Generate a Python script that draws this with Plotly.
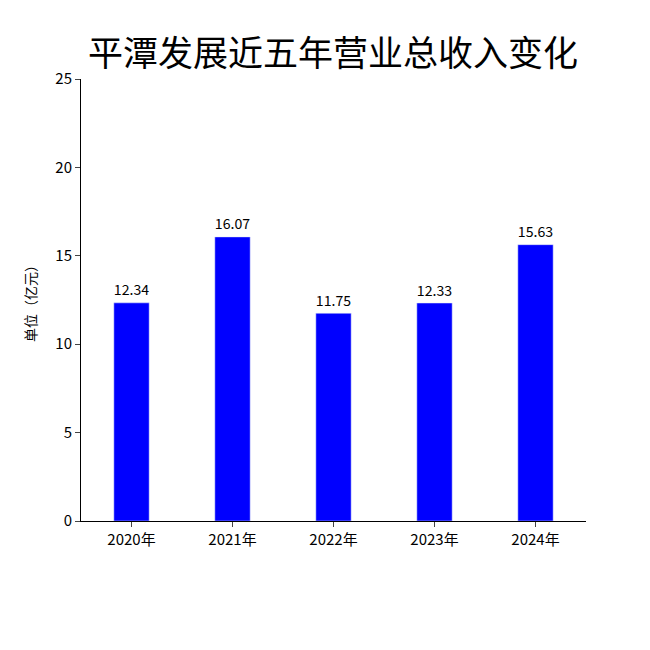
import plotly.graph_objects as go

years = ["2020年", "2021年", "2022年", "2023年", "2024年"]
revenue = [12.34, 16.07, 11.75, 12.33, 15.63]

fig = go.Figure(go.Bar(
    x=years, y=revenue,
    marker_color="#0000ff",
    text=[f"{v:.2f}" for v in revenue],
    textposition="outside",
    textfont=dict(size=16, color="black"),
    cliponaxis=False,
))

fig.update_layout(
    width=650, height=650,
    paper_bgcolor="white", plot_bgcolor="white",
    font=dict(family="Noto Sans CJK SC", color="black"),
    title=dict(text="平潭发展近五年营业总收入变化", x=0.5, xanchor="center",
               y=0.93, yanchor="middle", font=dict(size=35)),
    margin=dict(l=73, r=72, t=71, b=137),
    bargap=0.65,
    showlegend=False,
)
fig.update_yaxes(range=[0, 25], dtick=5, showline=True, linecolor="black",
                 ticks="outside", ticklen=5, showgrid=False, zeroline=False,
                 tickfont=dict(size=15),
                 title=dict(text="单位（亿元）", font=dict(size=14)))
fig.update_xaxes(showline=True, linecolor="black", ticks="outside", ticklen=5,
                 tickfont=dict(size=15))

fig.write_html("out.html")
